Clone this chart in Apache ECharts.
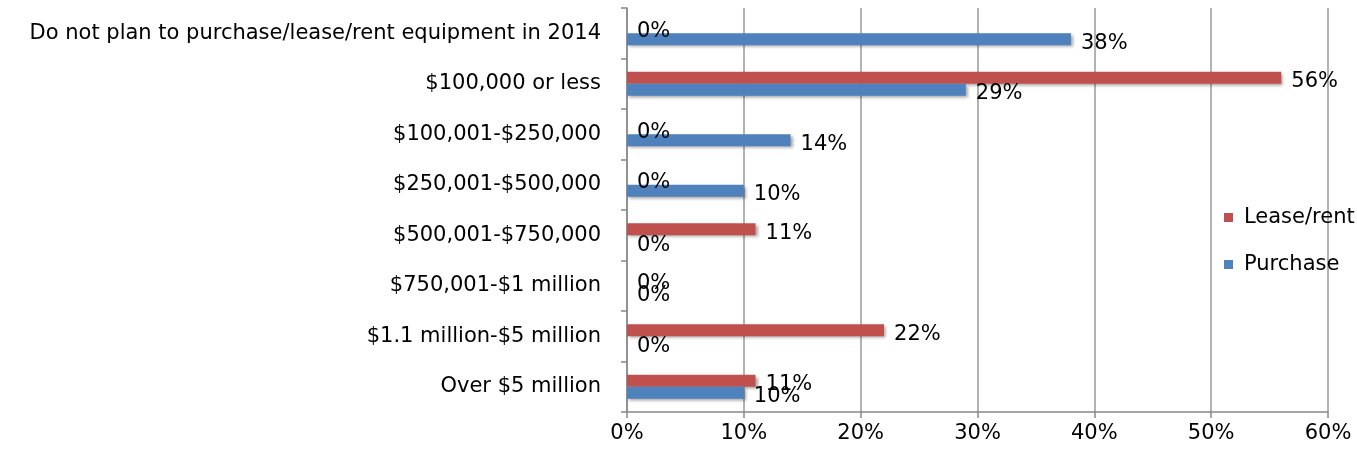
<!DOCTYPE html>
<html>
<head>
<meta charset="utf-8">
<script src="https://cdn.jsdelivr.net/npm/echarts@6/dist/echarts.min.js"></script>
<style>
    html, body { margin: 0; padding: 0; background: #fff; }
    #spendBar { width: 1357px; height: 458px; }
</style>
</head>
<body>
<div id="spendBar"></div>
<script>
// categories, top to bottom
const categories = [
    'Do not plan to purchase/lease/rent equipment in 2014',
    '$100,000 or less',
    '$100,001-$250,000',
    '$250,001-$500,000',
    '$500,001-$750,000',
    '$750,001-$1 million',
    '$1.1 million-$5 million',
    'Over $5 million'
];
const leaseRent = [0, 56, 0, 0, 11, 0, 22, 11];
const purchase = [38, 29, 14, 10, 0, 0, 0, 10];
const seriesNames = ['Lease/rent', 'Purchase'];

const FONT = 'DejaVu Sans';
const FSIZE = 21;

let myChart = echarts.init(document.getElementById('spendBar'));

function barSeries(name, data, color) {
    return {
        name: name,
        type: 'bar',
        data: data,
        barWidth: 12,
        barGap: '0%',
        itemStyle: {
            color: color,
            shadowBlur: 3,
            shadowOffsetX: 2,
            shadowOffsetY: 2,
            shadowColor: 'rgba(0,0,0,0.35)'
        },
        label: {
            show: true,
            position: 'right',
            distance: 10,
            offset: [0, 4],
            formatter: '{c}%',
            color: '#000',
            fontFamily: FONT,
            fontSize: FSIZE
        },
        animation: false
    };
}

myChart.setOption({
    legend: {
        orient: 'vertical',
        left: 1219,
        top: 202,
        itemWidth: 9,
        itemHeight: 9,
        itemGap: 26,
        icon: 'rect',
        textStyle: { color: '#000', fontFamily: FONT, fontSize: FSIZE, padding: [0, 0, 0, 6] },
        data: seriesNames
    },
    grid: {
        left: 627,
        right: 29,
        top: 8,
        bottom: 46,
        containLabel: false
    },
    xAxis: {
        type: 'value',
        min: 0,
        max: 60,
        interval: 10,
        axisLine: { show: true, lineStyle: { color: '#888', width: 1.5 } },
        axisTick: { show: true, length: 6, lineStyle: { color: '#888', width: 1.5 } },
        splitLine: { show: true, lineStyle: { color: '#999', width: 1.5 } },
        axisLabel: {
            formatter: '{value}%',
            color: '#000',
            fontFamily: FONT,
            fontSize: FSIZE,
            margin: 11
        }
    },
    yAxis: {
        type: 'category',
        inverse: true,
        data: categories,
        axisLine: { show: true, lineStyle: { color: '#888', width: 1.5 } },
        axisTick: { show: true, length: 6, lineStyle: { color: '#888', width: 1.5 } },
        axisLabel: {
            color: '#000',
            fontFamily: FONT,
            fontSize: FSIZE,
            margin: 26
        }
    },
    series: [
        barSeries(seriesNames[0], leaseRent, '#C0504D'),
        barSeries(seriesNames[1], purchase, '#4F81BD')
    ]
});
</script>
</body>
</html>
